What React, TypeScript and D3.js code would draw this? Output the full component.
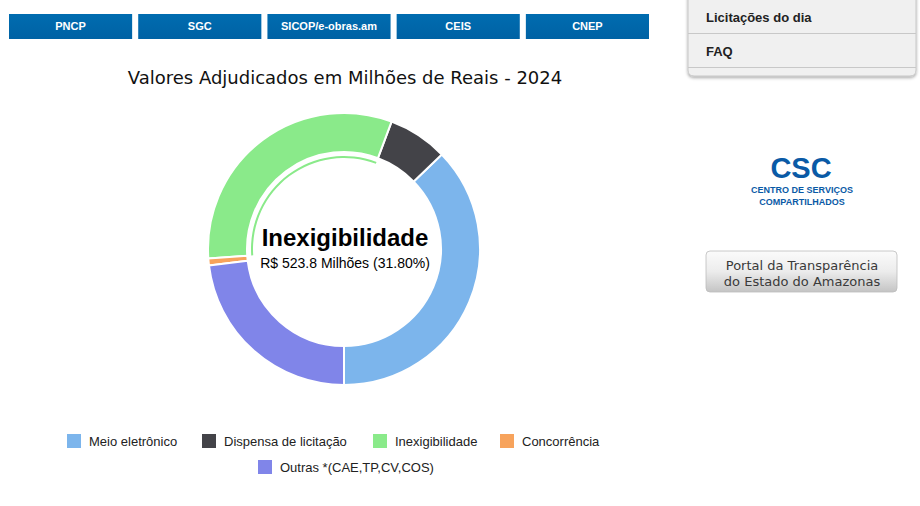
import React from "react";
import * as d3 from "d3";

const categories = [
  "Meio eletrônico",
  "Dispensa de licitação",
  "Inexigibilidade",
  "Concorrência",
  "Outras *(CAE,TP,CV,COS)",
];
const values = [613.3, 116.6, 523.8, 13.7, 379.8];
const colors = ["#7cb5ec", "#434348", "#8aea8a", "#f7a35c", "#8085e9"];
const navItems = ["PNCP", "SGC", "SICOP/e-obras.am", "CEIS", "CNEP"];
const menuItems = ["Licitações do dia", "FAQ"];
const title = "Valores Adjudicados em Milhões de Reais - 2024";
const highlighted = 2;

export default function App() {
  const W = 920, H = 506;
  const cx = 344, cy = 249;
  const R = 136, r = 97;
  const total = d3.sum(values);

  const pie = d3
    .pie<number>()
    .sort(null)
    .startAngle(Math.PI)
    .endAngle(-Math.PI);
  const arcs = pie(values);
  const arc = d3.arc<d3.PieArcDatum<number>>().innerRadius(r).outerRadius(R);
  const hl = d3.arc<d3.PieArcDatum<number>>().innerRadius(91).outerRadius(93);

  const navX = d3.scaleBand<number>().domain(d3.range(navItems.length)).range([9, 649]).paddingInner(0.047);

  const legendRow1 = [
    { i: 0, x: 67 },
    { i: 1, x: 202 },
    { i: 2, x: 373 },
    { i: 3, x: 500 },
  ];
  const legendRow2 = [{ i: 4, x: 258 }];

  const pct = ((values[highlighted] / total) * 100).toFixed(2);

  return (
    <svg
      width={W}
      height={H}
      style={{ position: "absolute", left: 0, top: 0, background: "#fff" }}
      fontFamily="'Liberation Sans', Arial, sans-serif"
    >
      <defs>
        <linearGradient id="navg" x1="0" y1="0" x2="0" y2="1">
          <stop offset="0" stopColor="#006cb0" />
          <stop offset="1" stopColor="#0062a4" />
        </linearGradient>
        <linearGradient id="portalg" x1="0" y1="0" x2="0" y2="1">
          <stop offset="0" stopColor="#fbfbfb" />
          <stop offset="0.5" stopColor="#ececec" />
          <stop offset="1" stopColor="#c4c4c4" />
        </linearGradient>
        <filter id="shadow" x="-10%" y="-10%" width="120%" height="130%">
          <feDropShadow dx="0" dy="1.5" stdDeviation="1.5" floodColor="#000" floodOpacity="0.35" />
        </filter>
      </defs>

      {/* nav buttons */}
      {navItems.map((t, i) => (
        <g key={t}>
          <rect x={navX(i)!} y={14} width={navX.bandwidth()} height={25} fill="url(#navg)" />
          <text
            x={navX(i)! + navX.bandwidth() / 2}
            y={30}
            textAnchor="middle"
            fill="#fff"
            fontSize={11}
            fontWeight="bold"
          >
            {t}
          </text>
        </g>
      ))}

      {/* right menu */}
      <g filter="url(#shadow)">
        <path d="M688,-5 H916 V70 Q916,76 910,76 H694 Q688,76 688,70 Z" fill="#f0f0f0" stroke="#bdbdbd" strokeWidth={0.8} />
      </g>
      {menuItems.map((t, i) => (
        <g key={t}>
          <text x={706} y={22 + i * 34} fontSize={13} fontWeight="bold" fill="#222">
            {t}
          </text>
          <line x1={688} x2={916} y1={33.5 + i * 34} y2={33.5 + i * 34} stroke="#c8c8c8" strokeWidth={1} />
        </g>
      ))}

      {/* CSC logo */}
      <text x={801} y={178} textAnchor="middle" fontSize={29} fontWeight="bold" fill="#0a5aa6">
        CSC
      </text>
      <text x={802} y={193} textAnchor="middle" fontSize={9} fontWeight="bold" fill="#0a5aa6">
        CENTRO DE SERVIÇOS
      </text>
      <text x={802} y={205} textAnchor="middle" fontSize={9} fontWeight="bold" fill="#0a5aa6">
        COMPARTILHADOS
      </text>

      {/* portal button */}
      <rect x={706} y={251} width={191} height={41} rx={4} fill="url(#portalg)" stroke="#bcbcbc" strokeWidth={0.8} />
      <text x={802} y={270} textAnchor="middle" fontSize={13} fill="#3a3a3a" fontFamily="'DejaVu Sans', sans-serif">
        Portal da Transparência
      </text>
      <text x={802} y={286} textAnchor="middle" fontSize={13} fill="#3a3a3a" fontFamily="'DejaVu Sans', sans-serif">
        do Estado do Amazonas
      </text>

      {/* title */}
      <text x={345} y={84} textAnchor="middle" fontSize={18} fill="#111" fontFamily="'DejaVu Sans', sans-serif">
        {title}
      </text>

      {/* donut */}
      <g transform={`translate(${cx},${cy})`}>
        {arcs.map((a, i) => (
          <path key={i} d={arc(a)!} fill={colors[i]} stroke="#fff" strokeWidth={2} strokeLinejoin="round" />
        ))}
        <path d={hl(arcs[highlighted])!} fill={colors[highlighted]} />
        <text x={1} y={-3} textAnchor="middle" fontSize={24} fontWeight="bold" fill="#000">
          {categories[highlighted]}
        </text>
        <text x={1} y={19} textAnchor="middle" fontSize={14} fill="#000">
          {`R$ ${values[highlighted].toFixed(1)} Milhões (${pct}%)`}
        </text>
      </g>

      {/* legend */}
      {[...legendRow1.map((d) => ({ ...d, y: 441 })), ...legendRow2.map((d) => ({ ...d, y: 467 }))].map((d) => (
        <g key={d.i}>
          <rect x={d.x} y={d.y - 7} width={14} height={14} fill={colors[d.i]} />
          <text x={d.x + 22} y={d.y + 5} fontSize={13} fill="#222">
            {categories[d.i]}
          </text>
        </g>
      ))}
    </svg>
  );
}
